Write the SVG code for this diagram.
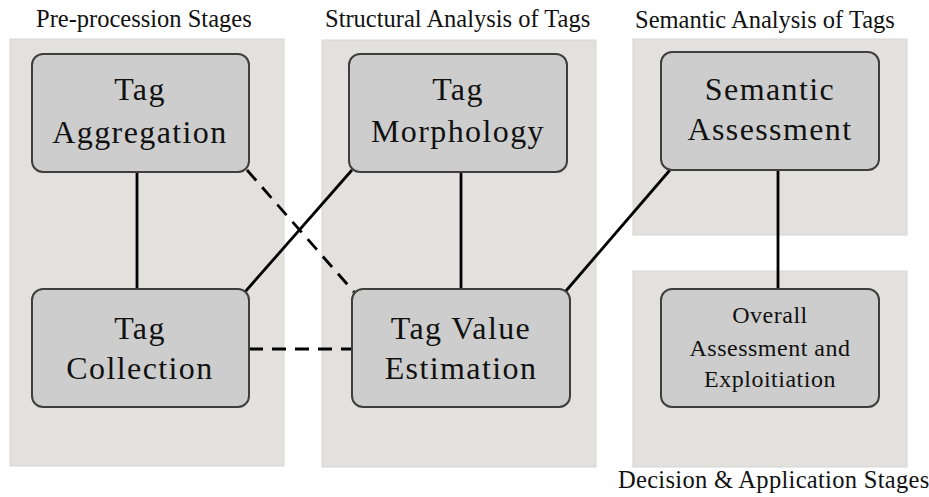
<svg xmlns="http://www.w3.org/2000/svg" width="929" height="497" viewBox="0 0 929 497">
  <style>
    .panel { fill: #e2e1de; stroke: #d6d5d2; stroke-width: 1; }
    .node rect { fill: #cdcdcd; stroke: #3e3e3e; stroke-width: 2; }
    .node text { font-family: "Liberation Serif", "DejaVu Serif", serif; font-size: 32px; fill: #111; text-anchor: middle; letter-spacing: 1.4px; }
    .node text.small { font-size: 24px; letter-spacing: 0.5px; }
    .title { font-family: "Liberation Serif", "DejaVu Serif", serif; font-size: 24.5px; fill: #111; }
    .link { stroke: #000; stroke-width: 2.8; fill: none; }
    .dash { stroke-dasharray: 14 9; }
  </style>

  <!-- stage panels -->
  <g id="panels">
    <rect class="panel" x="10" y="39" width="274" height="427"/>
    <rect class="panel" x="322" y="40" width="274" height="427"/>
    <rect class="panel" x="633" y="39" width="274" height="196"/>
    <rect class="panel" x="633" y="271" width="274" height="196"/>
  </g>

  <!-- stage titles -->
  <g id="titles">
    <text class="title" x="36" y="27">Pre-procession Stages</text>
    <text class="title" x="325" y="27">Structural Analysis of Tags</text>
    <text class="title" x="635" y="28">Semantic Analysis of Tags</text>
    <text class="title" x="618" y="488" letter-spacing="0.3">Decision &amp; Application Stages</text>
  </g>

  <!-- connectors -->
  <g id="connectors">
    <line class="link" x1="137" y1="172" x2="137" y2="289"/>
    <line class="link" x1="461" y1="172" x2="461" y2="289"/>
    <line class="link" x1="778" y1="170" x2="778" y2="289"/>
    <line class="link" x1="352" y1="170" x2="245" y2="292"/>
    <line class="link" x1="670" y1="170" x2="565" y2="292"/>
    <line class="link dash" x1="247" y1="170" x2="354" y2="292"/>
    <line class="link dash" x1="249" y1="349" x2="352" y2="349"/>
  </g>

  <!-- nodes -->
  <g id="tag-aggregation" class="node">
    <rect x="32" y="54" width="217" height="118" rx="11"/>
    <text x="140" y="100">Tag</text>
    <text x="140" y="143">Aggregation</text>
  </g>
  <g id="tag-morphology" class="node">
    <rect x="349" y="54" width="218" height="118" rx="11"/>
    <text x="458" y="100">Tag</text>
    <text x="458" y="142">Morphology</text>
  </g>
  <g id="semantic-assessment" class="node">
    <rect x="661" y="52" width="218" height="118" rx="11"/>
    <text x="770" y="100">Semantic</text>
    <text x="770" y="140">Assessment</text>
  </g>
  <g id="tag-collection" class="node">
    <rect x="32" y="289" width="217" height="118" rx="11"/>
    <text x="140" y="339">Tag</text>
    <text x="140" y="379">Collection</text>
  </g>
  <g id="tag-value-estimation" class="node">
    <rect x="352" y="289" width="218" height="118" rx="11"/>
    <text x="461" y="339">Tag Value</text>
    <text x="461" y="379">Estimation</text>
  </g>
  <g id="overall-assessment" class="node">
    <rect x="661" y="289" width="218" height="118" rx="11"/>
    <text class="small" x="770" y="323">Overall</text>
    <text class="small" x="770" y="356">Assessment and</text>
    <text class="small" x="770" y="387">Exploitiation</text>
  </g>
</svg>
